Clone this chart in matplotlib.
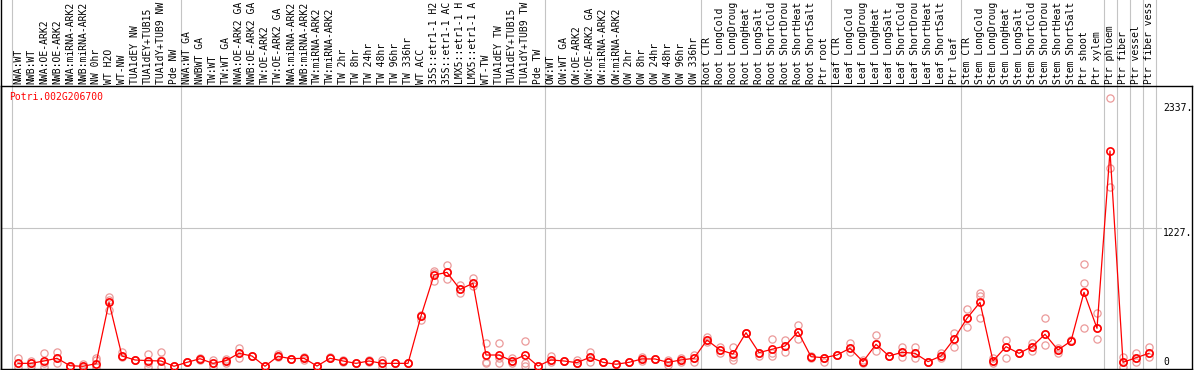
import matplotlib
matplotlib.use("Agg")
import matplotlib.pyplot as plt
import matplotlib.transforms as mtransforms

# ---------------- data ----------------
title = "Potri.002G206700"

categories = [
    "NWA:WT", "NWB:WT", "NWA:OE-ARK2", "NWB:OE-ARK2", "NWA:miRNA-ARK2", "NWB:miRNA-ARK2",
    "NW 0hr", "WT H2O", "WT-NW", "TUA1dEY NW", "TUA1dEY+TUB15", "TUA1dY+TUB9 NW", "Pde NW",
    "NWA:WT GA", "NWBWT GA", "TW:WT", "TW:WT GA", "NWA:OE-ARK2 GA", "NWB:OE-ARK2 GA",
    "TW:OE-ARK2", "TW:OE-ARK2 GA", "NWA:miRNA-ARK2", "NWB:miRNA-ARK2", "TW:miRNA-ARK2",
    "TW:miRNA-ARK2", "TW 2hr", "TW 8hr", "TW 24hr", "TW 48hr", "TW 96hr", "TW 336hr", "WT ACC",
    "35S::etr1-1 H2", "35S::etr1-1 AC", "LMX5::etr1-1 H", "LMX5::etr1-1 A", "WT-TW",
    "TUA1dEY TW", "TUA1dEY+TUB15", "TUA1dY+TUB9 TW", "Pde TW",
    "OW:WT", "OW:WT GA", "OW:OE-ARK2", "OW:OE-ARK2 GA", "OW:miRNA-ARK2", "OW:miRNA-ARK2",
    "OW 2hr", "OW 8hr", "OW 24hr", "OW 48hr", "OW 96hr", "OW 336hr",
    "Root CTR", "Root LongCold", "Root LongDroug", "Root LongHeat", "Root LongSalt",
    "Root ShortCold", "Root ShortDrou", "Root ShortHeat", "Root ShortSalt", "Ptr root",
    "Leaf CTR", "Leaf LongCold", "Leaf LongDroug", "Leaf LongHeat", "Leaf LongSalt",
    "Leaf ShortCold", "Leaf ShortDrou", "Leaf ShortHeat", "Leaf ShortSalt", "Ptr leaf",
    "Stem CTR", "Stem LongCold", "Stem LongDroug", "Stem LongHeat", "Stem LongSalt",
    "Stem ShortCold", "Stem ShortDrou", "Stem ShortHeat", "Stem ShortSalt", "Ptr shoot",
    "Ptr xylem", "Ptr phloem", "Ptr fiber", "Ptr vessel", "Ptr fiber vess",
]

mean_values = [
    28, 28, 49, 73, 7, 2, 25, 570, 93, 58, 52, 49, 2,
    37, 69, 28, 52, 117, 93, 2, 91, 69, 73, 4, 73, 49, 28, 49, 28, 28, 28,
    448, 812, 836, 685, 739, 102, 102, 49, 102, 4,
    58, 49, 34, 82, 37, 20, 37, 67, 67, 37, 58, 73,
    235, 147, 111, 300, 123, 153, 182, 309, 87, 78,
    102, 162, 43, 197, 93, 126, 117, 43, 93, 244,
    428, 570, 49, 176, 117, 176, 286, 147, 226, 659, 339,
    1914, 37, 78, 117,
]

replicate_values = [
    [78, 28, 0], [52, 28, 4], [123, 28, 0], [132, 73, 28], [7, 0, 7], [22, 0, 0],
    [73, 58, 0], [620, 590, 502], [132, 93, 81], [58, 58, 58], [111, 28, 0], [132, 58, 0],
    [2, 2, 2],
    [37, 37, 37], [78, 58, 69], [58, 0, 28], [67, 28, 52], [161, 73, 117], [93, 93, 93],
    [2, 2, 2], [111, 81, 91], [69, 69, 69], [81, 58, 73], [4, 4, 4], [81, 73, 73],
    [58, 43, 49], [28, 28, 28], [58, 49, 40], [58, 0, 28], [28, 28, 28], [28, 28, 28],
    [457, 413, 448], [851, 827, 762], [901, 836, 774], [724, 685, 656], [783, 739, 715],
    [206, 43, 28], [206, 73, 28], [78, 28, 49], [226, 28, 4], [4, 4, 4],
    [93, 43, 58], [49, 49, 49], [58, 28, 34], [132, 43, 82], [37, 37, 37], [19, 19, 19],
    [37, 37, 37], [87, 46, 67], [67, 67, 67], [58, 13, 37], [78, 43, 58], [102, 43, 73],
    [265, 220, 235], [170, 117, 147], [176, 87, 58], [300, 300, 300], [93, 123, 123],
    [241, 123, 93], [235, 132, 182], [369, 241, 309], [93, 73, 87], [78, 43, 78],
    [102, 102, 102], [206, 132, 162], [58, 28, 43], [280, 138, 197], [93, 93, 93],
    [176, 81, 126], [176, 78, 117], [43, 43, 43], [117, 73, 93], [295, 176, 244],
    [508, 354, 428], [650, 626, 428], [73, 34, 49], [235, 73, 176], [123, 117, 117],
    [206, 141, 176], [428, 191, 286], [161, 117, 147], [235, 226, 226], [907, 739, 339],
    [472, 241, 339], [2381, 1760, 1597], [87, 0, 37], [117, 43, 78], [176, 87, 117],
]

# group separators (after these category indices)
group_ends = [-1, 12, 40, 52, 62, 72, 83, 84, 85, 86, 87]

ytick_values = [2337, 1227, 0]
ytick_labels = ["2337.", "1227.", "0"]

# ---------------- layout ----------------
W, H = 1194, 370
fig = plt.figure(figsize=(W / 100, H / 100), dpi=100)
ax_left, ax_right, ax_top, ax_bot = 1, 1192, 85.5, 368.5
ax = fig.add_axes([ax_left / W, (H - ax_bot) / H, (ax_right - ax_left) / W, (ax_bot - ax_top) / H])

px_per_cat = 13.0
x0_px = 18.0
ax.set_xlim((ax_left - x0_px) / px_per_cat, (ax_right - x0_px) / px_per_cat)
y0_px = 366.5
px_per_unit = 0.11261
ax.set_ylim((y0_px - ax_bot) / px_per_unit, (y0_px - ax_top) / px_per_unit)

ax.set_xticks([])
ax.set_yticks([])
for s in ["left", "top", "bottom", "right"]:
    ax.spines[s].set_linewidth(1.0)
    ax.spines[s].set_color("black")

mono = ["DejaVu Sans Mono"]
grid_col = "#c4c4c4"
fs = 7.05

# vertical separators running through the label area up to figure top
top_axes = (H - 0) / (ax_bot - ax_top) - (H - ax_bot) / (ax_bot - ax_top)
trans_sep = mtransforms.blended_transform_factory(ax.transData, ax.transAxes)
for g in group_ends:
    ax.plot([g + 0.5, g + 0.5], [0, top_axes + 0.05], color=grid_col, lw=0.8,
            transform=trans_sep, clip_on=False, zorder=1)

# horizontal grid at 1227
ax.plot([ax.get_xlim()[0], (1161 - x0_px) / px_per_cat], [1227, 1227], color=grid_col, lw=0.8, zorder=1)

# left border continues up through label area
fig.add_artist(plt.Line2D([ax_left / W + 0.0004, ax_left / W + 0.0004], [0, 1],
                          transform=fig.transFigure, color="black", lw=1.0))

# category labels
trans_lab = mtransforms.blended_transform_factory(ax.transData, fig.transFigure)
for i, lab in enumerate(categories):
    ax.text(i, (H - 83.5) / H, lab, rotation=90, ha="center", va="bottom",
            fontsize=fs, family=mono, transform=trans_lab, clip_on=False)

# replicates
for i, reps in enumerate(replicate_values):
    ax.plot([i] * len(reps), reps, linestyle="none", marker="o", markersize=5.2,
            markerfacecolor="none", markeredgecolor="#eb9a9a", markeredgewidth=0.9, zorder=2)

# means
ax.plot(range(len(mean_values)), mean_values, color="red", lw=0.9, marker="o", markersize=5.2,
        markerfacecolor="none", markeredgecolor="red", markeredgewidth=1.2, zorder=3)

# y tick labels at right
label_x = (1163 - x0_px) / px_per_cat
for v, t in zip(ytick_values, ytick_labels):
    dy = -4.3 if v else 4.5
    tr = mtransforms.offset_copy(ax.transData, fig=fig, x=0, y=dy * 0.72, units="points")
    ax.text(label_x, v, t, ha="left", va="center", fontsize=fs, family=mono, transform=tr)

# title
fig.text(9.3 / W, 1 - 97 / H, title, color="red", fontsize=fs, family=mono, ha="left", va="center")

fig.savefig("out.png", dpi=100)
